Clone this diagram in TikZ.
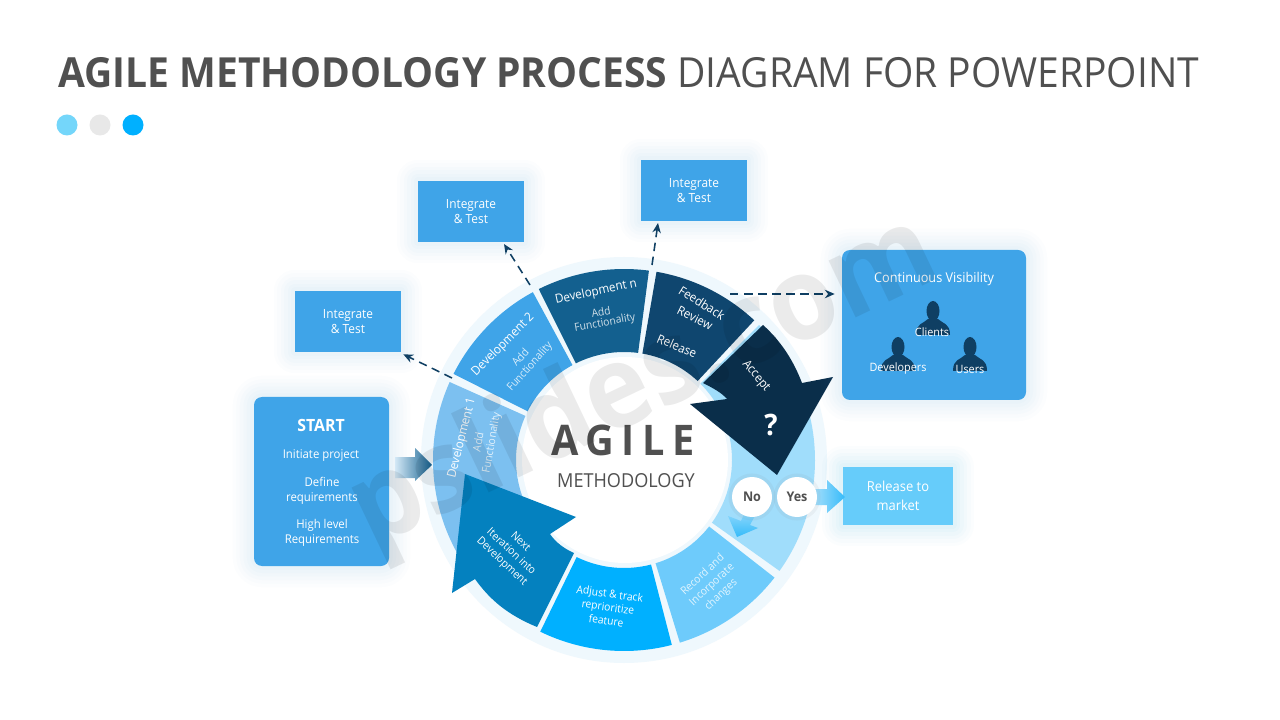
\documentclass[tikz,border=0pt]{standalone}
\usepackage{fontspec}
\setmainfont[FakeStretch=.94]{Open Sans}
\usetikzlibrary{arrows.meta}
\definecolor{inkgray}{HTML}{505050}
\definecolor{boxblue}{HTML}{3FA4E8}
\definecolor{navy}{HTML}{0F3F63}
\definecolor{halo}{HTML}{EFF8FD}
\definecolor{glow}{HTML}{4FA8E0}
\definecolor{dotc}{HTML}{74D6FA}
\definecolor{paleblue}{HTML}{D3E8F6}
\definecolor{devone}{HTML}{7CC0F0}
\definecolor{devn}{HTML}{13608F}
\definecolor{feedback}{HTML}{0F466F}
\definecolor{acceptc}{HTML}{0A2E4A}
\definecolor{nextc}{HTML}{0481BF}
\definecolor{adjustc}{HTML}{00B0FF}
\definecolor{recordc}{HTML}{6ECBFB}
\definecolor{openc}{HTML}{A0DDFB}
\definecolor{releasec}{HTML}{66CCFA}
\definecolor{yestip}{HTML}{35BBFA}
\tikzset{
	softbox/.style 2 args={fill=#1, text=white, inner sep=0pt, align=center, font=\fontsize{9}{10.6}\selectfont, line join=round,
		preaction={draw=#2, opacity=.014, line width=30pt},
		preaction={draw=#2, opacity=.016, line width=25pt},
		preaction={draw=#2, opacity=.018, line width=20pt},
		preaction={draw=#2, opacity=.02, line width=15pt},
		preaction={draw=#2, opacity=.022, line width=10pt},
		preaction={draw=#2, opacity=.025, line width=5pt}},
	intbox/.style={softbox={boxblue}{glow}, minimum width=106*0.025cm, minimum height=61*0.025cm},
	boxtext/.style={text=white, inner sep=0pt, align=center, font=\fontsize{8.6}{10.6}\selectfont},
	seglabel/.style={text=white, inner sep=0pt, align=center, font=\fontsize{8.8}{10.6}\selectfont},
	sublabel/.style={seglabel, text opacity=.8, font=\fontsize{7.8}{9.6}\selectfont},
	answer/.style={circle, fill=white, text=inkgray, inner sep=0pt, minimum size=40*0.025cm, font=\fontsize{9.5}{11}\bfseries\selectfont,
		preaction={draw=gray, opacity=.08, line width=5pt}},
	dotmark/.style={circle, fill=#1, minimum size=21*0.025cm, inner sep=0pt},
	dashlink/.style={draw=navy, line width=1.1pt, dash pattern=on 6pt off 4pt, -{Stealth[length=7pt,width=6pt]}},
	person/.style={fill=navy},
}
% one ring piece: colour, start angle, end angle
\newcommand{\ringpiece}[3]{
	\fill[#1] (#2:191) arc[start angle=#2, end angle=#3, radius=191] -- (#3:108) arc[start angle=#3, end angle=#2, radius=108] -- cycle;
}
\newcommand{\personicon}[2]{
	\begin{scope}[shift={(#1,#2)}]
		\fill[person] (0,-8) ellipse[x radius=6.5, y radius=10];
		\fill[person] (-17,16) .. controls (-17,4) and (-10,5) .. (-5,0) -- (5,0) .. controls (10,5) and (17,4) .. (17,16) -- cycle;
	\end{scope}
}

\begin{document}
\begin{tikzpicture}[x=0.025cm, y=-0.025cm]
	\useasboundingbox (0,0) rectangle (1280,720);
	\fill[white] (0,0) rectangle (1280,720);

	% heading
	\node[anchor=west, text=inkgray, inner sep=0pt, font=\fontsize{29.5}{34}\selectfont] (title) at (58,73) {\textbf{AGILE METHODOLOGY PROCESS} DIAGRAM FOR POWERPOINT};
	\node[dotmark={dotc}] (dot_1) at (67,125) {};
	\node[dotmark={gray!18}] (dot_2) at (100,125) {};
	\node[dotmark={adjustc}] (dot_3) at (133,125) {};

	% ring
	\fill[halo] (624,460) circle[radius=203];
	\begin{scope}[shift={(624,460)}, y=0.025cm]
		\ringpiece{devone}{155.9}{216}
		\ringpiece{boxblue}{118.5}{153.2}
		\ringpiece{devn}{82.5}{116.5}
		\ringpiece{feedback}{47}{80.2}
		\ringpiece{openc}{-35.5}{45}
		\ringpiece{recordc}{-73}{-38}
		\ringpiece{adjustc}{-116}{-75.5}
	\end{scope}
	\fill[white] (625,460) circle[radius=103];

	% big arrows on the ring
	\fill[acceptc] (763,325) .. controls (782,342) and (794,362) .. (802,383) -- (833,377) -- (777,475) -- (690,404) -- (727,399) .. controls (722,393) and (713,388) .. (703,383) -- cycle;
	\fill[nextc] (537,627) .. controls (508,615) and (490,600) .. (475,579) -- (452,593) -- (465,474) -- (576,517) -- (550,534) .. controls (556,543) and (565,549) .. (574,553) -- cycle;

	% ring labels
	\node[seglabel, rotate=76] (dev_1) at (462,438) {Development 1};
	\node[sublabel, rotate=80] (add_1) at (478,442) {Add};
	\node[sublabel, rotate=80] (fun_1) at (492,443) {Functionality};
	\node[seglabel, rotate=45] (dev_2) at (503,345) {Development 2};
	\node[sublabel, rotate=48] (add_2) at (520,357) {Add};
	\node[sublabel, rotate=48] (fun_2) at (530,367) {Functionality};
	\node[seglabel, rotate=12] (dev_n) at (596,292) {Development n};
	\node[sublabel, rotate=10] (add_n) at (601,312) {Add};
	\node[sublabel, rotate=10] (fun_n) at (605,323) {Functionality};
	\node[seglabel, rotate=-32] (feed) at (702,303) {Feedback};
	\node[seglabel, rotate=-26] (review) at (695,318) {Review};
	\node[seglabel, rotate=-23] (release) at (677,346) {Release};
	\node[seglabel, rotate=-50] (accept) at (756,376) {Accept};
	\node[text=white, inner sep=0pt, font=\fontsize{21}{24}\bfseries\selectfont] (question) at (771,425) {?};
	\node[sublabel, rotate=43] (record) at (712,585) {Record and\\Incorporate\\changes};
	\node[sublabel, text opacity=1, rotate=-8] (adjust) at (608,607) {Adjust \& track\\reprioritize\\feature};
	\node[sublabel, text opacity=1, rotate=-43] (next) at (511,552) {Next\\Iteration into\\Development};

	% centre
	\node[text=inkgray, inner sep=0pt, font=\fontsize{30}{34}\bfseries\selectfont\addfontfeature{LetterSpace=18}] (agile) at (623,440) {AGILE};
	\node[text=inkgray, inner sep=0pt, font=\fontsize{13.7}{16}\selectfont] (method) at (626,481) {METHODOLOGY};

	% outer boxes
	\node[intbox] (int_1) at (348,321.5) {Integrate\\\& Test};
	\node[intbox] (int_2) at (471,211.5) {Integrate\\\& Test};
	\node[intbox] (int_3) at (694,190.5) {Integrate\\\& Test};
	\node[softbox={boxblue}{glow}, rounded corners=8*0.025cm, minimum width=135*0.025cm, minimum height=169*0.025cm] (start) at (321.5,481.5) {};
	\node[softbox={boxblue}{glow}, rounded corners=8*0.025cm, minimum width=184*0.025cm, minimum height=150*0.025cm] (visible) at (934,325) {};
	\node[softbox={releasec}{cyan}, minimum width=110*0.025cm, minimum height=58*0.025cm, font=\fontsize{9.8}{13.5}\selectfont] (market) at (898,496) {Release to\\market};

	\node[boxtext, font=\fontsize{12}{14}\bfseries\selectfont] (start_t) at (321,425) {START};
	\node[boxtext] (start_a) at (321,456) {Initiate project};
	\node[boxtext] (start_b) at (322,491) {Define\\requirements};
	\node[boxtext] (start_c) at (322,533) {High level\\Requirements};

	\node[boxtext, font=\fontsize{9.6}{12}\selectfont] (vis_t) at (934,279) {Continuous Visibility};
	\personicon{933}{319}
	\personicon{898}{355}
	\personicon{970}{355}
	\node[boxtext, font=\fontsize{8.2}{10}\selectfont] (clients) at (932,332) {Clients};
	\node[boxtext, font=\fontsize{8.2}{10}\selectfont] (devs) at (898,369) {Developers};
	\node[boxtext, font=\fontsize{8.2}{10}\selectfont] (users) at (970,369) {Users};

	% dashed links
	\coordinate (out_1) at (452,378);
	\coordinate (out_2) at (530,285);
	\coordinate (out_3) at (652,265);
	\coordinate (out_4) at (730,294);
	\coordinate (in_2) at (504,244);
	\coordinate (in_3) at (658,223);
	\draw[dashlink] (out_1) -- ([shift={(2,2)}]int_1.south east);
	\draw[dashlink] (out_2) -- (in_2);
	\draw[dashlink] (out_3) -- (in_3);
	\draw[dashlink, shorten >=7*0.025cm] (out_4) -- (visible.west |- out_4);

	% small fat arrows
	\shade[left color=paleblue, right color=devn] (395,457) -- (415,457) -- (415,448) -- (432,465) -- (415,481) -- (415,478) -- (395,478) -- cycle;
	\shade[left color=openc, right color=yestip] (815,489) -- (827,489) -- (827,480) -- (845,497) -- (827,513) -- (827,505) -- (815,505) -- cycle;
	\shade[shading angle=-60, top color=openc, bottom color=yestip] (728,516) -- (741,521) -- (747,507) -- (757,512) -- (750,525) -- (758,528) -- (737,537) -- cycle;

	\node[answer] (no) at (752,497) {No};
	\node[answer] (yes) at (797,497) {Yes};

	% site mark across the slide
	\node[rotate=25.5, text=black, text opacity=.08, inner sep=0pt, font=\fontsize{82}{100}\bfseries\selectfont] (mark) at (645,385) {pslides.com};
\end{tikzpicture}
\end{document}
